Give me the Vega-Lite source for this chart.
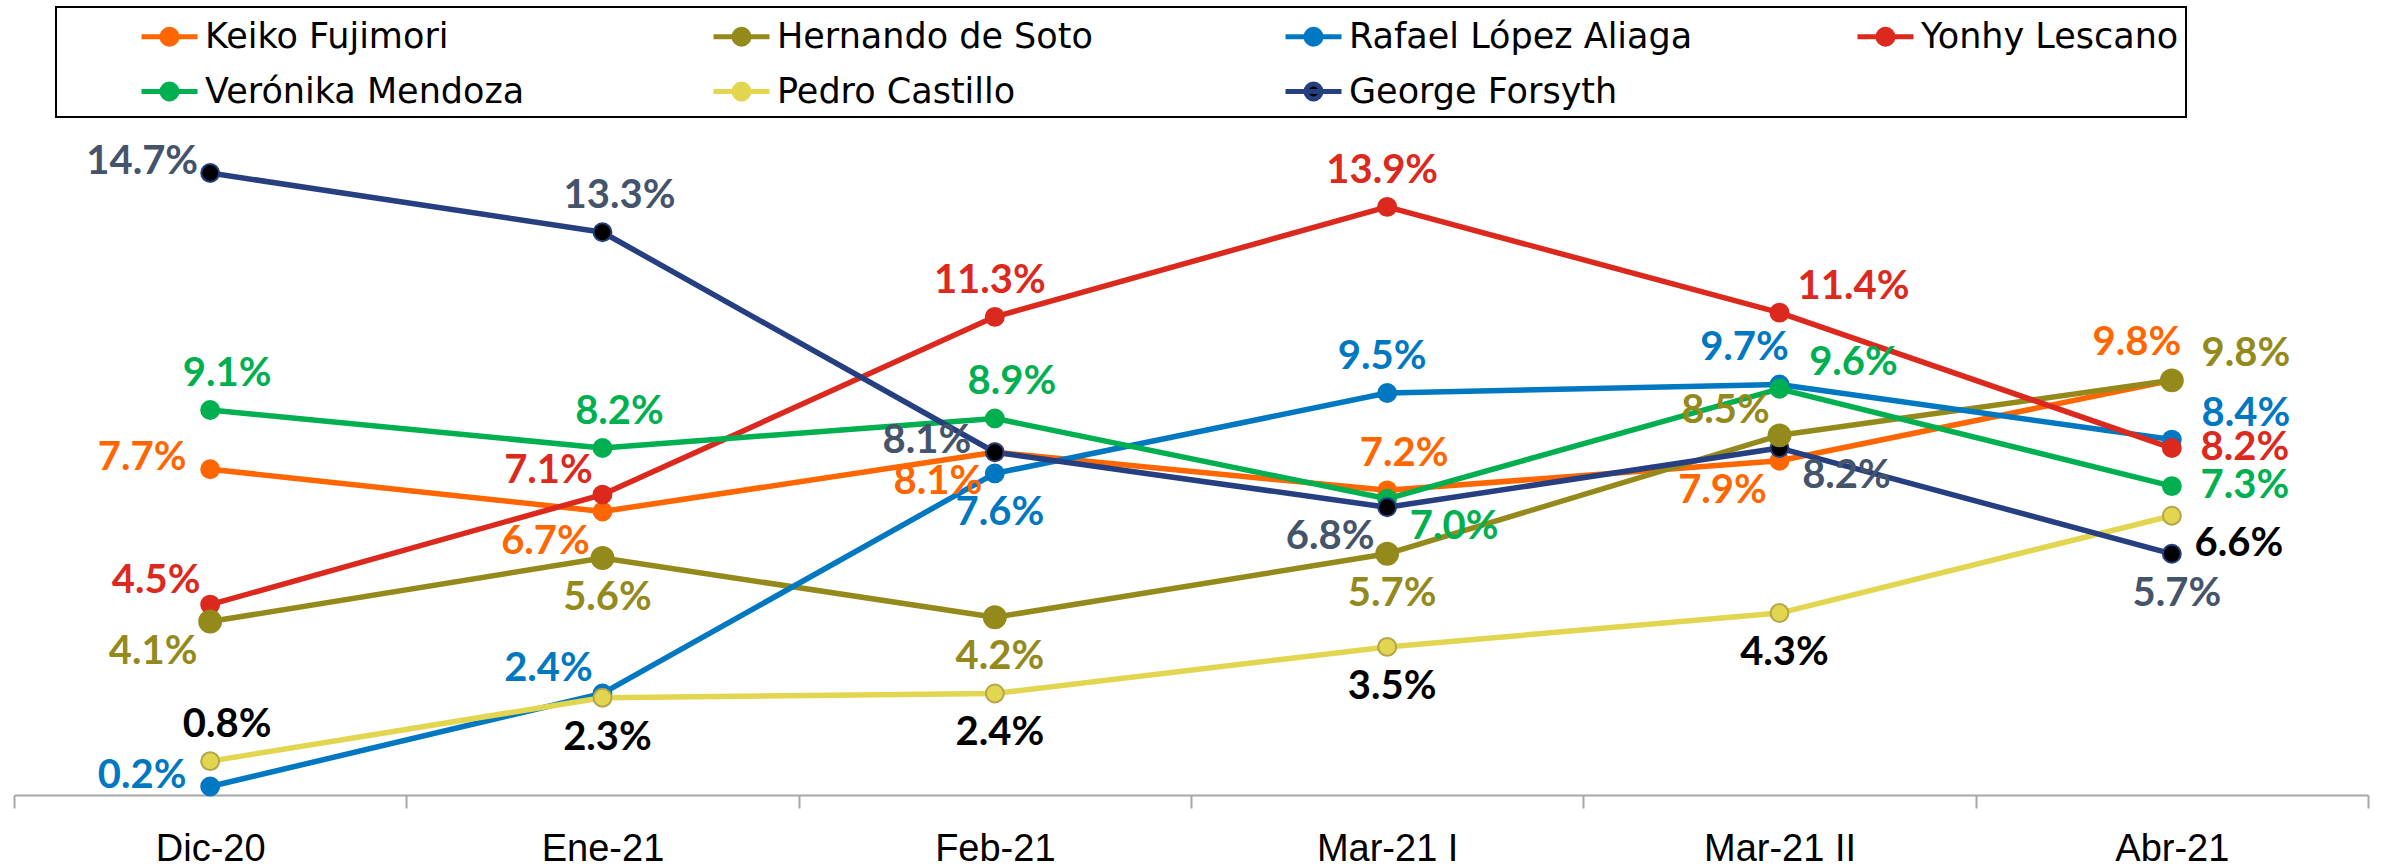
{
  "$schema": "https://vega.github.io/schema/vega-lite/v6.json",
  "width": 2354,
  "height": 677,
  "autosize": {"type": "none"},
  "padding": {"left": 14, "top": 118, "right": 17, "bottom": 72},
  "background": "#ffffff",
  "config": {"view": {"stroke": null}, "legend": {"gridAlign": "all"}},
  "data": {
    "values": [
      {"c": "Dic-20", "s": "Keiko Fujimori", "v": 0.077, "p": "W"},
      {"c": "Ene-21", "s": "Keiko Fujimori", "v": 0.067, "p": "SW"},
      {"c": "Feb-21", "s": "Keiko Fujimori", "v": 0.081, "p": "SW"},
      {"c": "Mar-21 I", "s": "Keiko Fujimori", "v": 0.072, "p": "NNE"},
      {"c": "Mar-21 II", "s": "Keiko Fujimori", "v": 0.079, "p": "SW"},
      {"c": "Abr-21", "s": "Keiko Fujimori", "v": 0.098, "p": "NNW"},
      {"c": "Dic-20", "s": "Hernando de Soto", "v": 0.041, "p": "SW"},
      {"c": "Ene-21", "s": "Hernando de Soto", "v": 0.056, "p": "S"},
      {"c": "Feb-21", "s": "Hernando de Soto", "v": 0.042, "p": "S"},
      {"c": "Mar-21 I", "s": "Hernando de Soto", "v": 0.057, "p": "S"},
      {"c": "Mar-21 II", "s": "Hernando de Soto", "v": 0.085, "p": "NW"},
      {"c": "Abr-21", "s": "Hernando de Soto", "v": 0.098, "p": "NE"},
      {"c": "Dic-20", "s": "Rafael López Aliaga", "v": 0.002, "p": "W"},
      {"c": "Ene-21", "s": "Rafael López Aliaga", "v": 0.024, "p": "NW"},
      {"c": "Feb-21", "s": "Rafael López Aliaga", "v": 0.076, "p": "S"},
      {"c": "Mar-21 I", "s": "Rafael López Aliaga", "v": 0.095, "p": "N"},
      {"c": "Mar-21 II", "s": "Rafael López Aliaga", "v": 0.097, "p": "NNW"},
      {"c": "Abr-21", "s": "Rafael López Aliaga", "v": 0.084, "p": "NE"},
      {"c": "Dic-20", "s": "Yonhy Lescano", "v": 0.045, "p": "NW"},
      {"c": "Ene-21", "s": "Yonhy Lescano", "v": 0.071, "p": "NW"},
      {"c": "Feb-21", "s": "Yonhy Lescano", "v": 0.113, "p": "N"},
      {"c": "Mar-21 I", "s": "Yonhy Lescano", "v": 0.139, "p": "N"},
      {"c": "Mar-21 II", "s": "Yonhy Lescano", "v": 0.114, "p": "NE"},
      {"c": "Abr-21", "s": "Yonhy Lescano", "v": 0.082, "p": "E"},
      {"c": "Dic-20", "s": "Verónika Mendoza", "v": 0.091, "p": "NNE"},
      {"c": "Ene-21", "s": "Verónika Mendoza", "v": 0.082, "p": "NNE"},
      {"c": "Feb-21", "s": "Verónika Mendoza", "v": 0.089, "p": "NNE"},
      {"c": "Mar-21 I", "s": "Verónika Mendoza", "v": 0.070, "p": "SE"},
      {"c": "Mar-21 II", "s": "Verónika Mendoza", "v": 0.096, "p": "NE"},
      {"c": "Abr-21", "s": "Verónika Mendoza", "v": 0.073, "p": "E"},
      {"c": "Dic-20", "s": "Pedro Castillo", "v": 0.008, "p": "NNE"},
      {"c": "Ene-21", "s": "Pedro Castillo", "v": 0.023, "p": "S"},
      {"c": "Feb-21", "s": "Pedro Castillo", "v": 0.024, "p": "S"},
      {"c": "Mar-21 I", "s": "Pedro Castillo", "v": 0.035, "p": "S"},
      {"c": "Mar-21 II", "s": "Pedro Castillo", "v": 0.043, "p": "S"},
      {"c": "Abr-21", "s": "Pedro Castillo", "v": 0.066, "p": "SE"},
      {"c": "Dic-20", "s": "George Forsyth", "v": 0.147, "p": "W"},
      {"c": "Ene-21", "s": "George Forsyth", "v": 0.133, "p": "NNE"},
      {"c": "Feb-21", "s": "George Forsyth", "v": 0.081, "p": "W"},
      {"c": "Mar-21 I", "s": "George Forsyth", "v": 0.068, "p": "SW"},
      {"c": "Mar-21 II", "s": "George Forsyth", "v": 0.082, "p": "SE"},
      {"c": "Abr-21", "s": "George Forsyth", "v": 0.057, "p": "S"}
    ]
  },
  "encoding": {
    "x": {
      "field": "c",
      "type": "ordinal",
      "bandPosition": 0.5,
      "scale": {"type": "band", "domain": ["Dic-20", "Ene-21", "Feb-21", "Mar-21 I", "Mar-21 II", "Abr-21"], "paddingInner": 0, "paddingOuter": 0},
      "axis": {
        "title": null,
        "labelAngle": 0,
        "grid": false,
        "domainColor": "#A6A6A6",
        "domainWidth": 2,
        "tickColor": "#A6A6A6",
        "tickWidth": 2,
        "tickSize": 13,
        "tickBand": "extent",
        "labelFont": "Liberation Sans",
        "labelFontSize": 38,
        "labelColor": "#000000",
        "labelPadding": 22
      }
    },
    "y": {
      "field": "v",
      "type": "quantitative",
      "scale": {"domain": [0, 0.16], "nice": false, "zero": true},
      "axis": null
    }
  },
  "layer": [
    {
      "mark": {"type": "line", "strokeWidth": 5.5, "strokeJoin": "round"},
      "encoding": {
        "color": {
          "field": "s",
          "type": "nominal",
          "scale": {
            "domain": ["Keiko Fujimori", "Hernando de Soto", "Rafael López Aliaga", "Yonhy Lescano", "Verónika Mendoza", "Pedro Castillo", "George Forsyth"],
            "range": ["#FF6600", "#948A1C", "#0078C1", "#DC291E", "#00B050", "#E2D54F", "#263F80"]
          },
          "legend": {
            "orient": "none",
            "legendX": 42,
            "legendY": -111,
            "columns": 4,
            "direction": "horizontal",
            "gridAlign": "all",
            "columnPadding": 154,
            "rowPadding": 14,
            "title": " ",
            "titleOrient": "left",
            "titleFontSize": 1,
            "titlePadding": 84,
            "padding": 7,
            "strokeColor": "#000000",
            "labelFont": "DejaVu Sans",
            "labelFontSize": 35,
            "labelColor": "#000000",
            "labelOffset": 13,
            "labelLimit": 0,
            "symbolType": "M-1.4,0L1.4,0M0.375,0A0.375,0.375,0,1,1,-0.375,0A0.375,0.375,0,1,1,0.375,0Z",
            "symbolSize": 1600,
            "symbolStrokeWidth": 5,
            "encode": {
              "symbols": {"update": {
                "fill": {"signal": "datum.value === 'George Forsyth' ? '#000000' : scale('color', datum.value)"},
                "stroke": {"scale": "color", "field": "value"},
                "opacity": {"value": 1},
                "strokeWidth": {"value": 5}
              }},
              "legend": {"update": {"strokeWidth": {"value": 2}}}
            }
          }
        }
      }
    },
    {
      "transform": [{"filter": "datum.s !== 'Hernando de Soto'"}],
      "mark": {"type": "point", "filled": true, "opacity": 1, "strokeWidth": 2, "shape": "circle", "size": 320},
      "encoding": {
        "fill": {
          "field": "s", "type": "nominal", "legend": null,
          "scale": {
            "domain": ["Keiko Fujimori", "Hernando de Soto", "Rafael López Aliaga", "Yonhy Lescano", "Verónika Mendoza", "Pedro Castillo", "George Forsyth"],
            "range": ["#FF6600", "#948A1C", "#0078C1", "#DC291E", "#00B050", "#E2D54F", "#000000"]
          }
        },
        "stroke": {
          "field": "s", "type": "nominal", "legend": null,
          "scale": {
            "domain": ["Keiko Fujimori", "Hernando de Soto", "Rafael López Aliaga", "Yonhy Lescano", "Verónika Mendoza", "Pedro Castillo", "George Forsyth"],
            "range": ["#FF6600", "#948A1C", "#0078C1", "#DC291E", "#00B050", "#B4A44A", "#263F80"]
          }
        }
      }
    },
    {
      "transform": [{"filter": "datum.s === 'Hernando de Soto'"}],
      "mark": {"type": "point", "filled": true, "opacity": 1, "strokeWidth": 2, "shape": "circle", "size": 480, "fill": "#948A1C", "stroke": "#948A1C"},
      "encoding": {}
    },
    {
      "layer": [
        {"transform": [{"filter": "datum.p === 'N'"}], "mark": {"type": "text", "dx": -5, "dy": -36, "align": "center", "baseline": "middle", "font": "Lato", "fontWeight": "bold", "fontSize": 40}},
        {"transform": [{"filter": "datum.p === 'NNE'"}], "mark": {"type": "text", "dx": 17, "dy": -36, "align": "center", "baseline": "middle", "font": "Lato", "fontWeight": "bold", "fontSize": 40}},
        {"transform": [{"filter": "datum.p === 'NNW'"}], "mark": {"type": "text", "dx": -35, "dy": -37, "align": "center", "baseline": "middle", "font": "Lato", "fontWeight": "bold", "fontSize": 40}},
        {"transform": [{"filter": "datum.p === 'NW'"}], "mark": {"type": "text", "dx": -54, "dy": -24, "align": "center", "baseline": "middle", "font": "Lato", "fontWeight": "bold", "fontSize": 40}},
        {"transform": [{"filter": "datum.p === 'W'"}], "mark": {"type": "text", "dx": -68, "dy": -11, "align": "center", "baseline": "middle", "font": "Lato", "fontWeight": "bold", "fontSize": 40}},
        {"transform": [{"filter": "datum.p === 'SW'"}], "mark": {"type": "text", "dx": -57, "dy": 30, "align": "center", "baseline": "middle", "font": "Lato", "fontWeight": "bold", "fontSize": 40}},
        {"transform": [{"filter": "datum.p === 'S'"}], "mark": {"type": "text", "dx": 5, "dy": 40, "align": "center", "baseline": "middle", "font": "Lato", "fontWeight": "bold", "fontSize": 40}},
        {"transform": [{"filter": "datum.p === 'SE'"}], "mark": {"type": "text", "dx": 67, "dy": 28, "align": "center", "baseline": "middle", "font": "Lato", "fontWeight": "bold", "fontSize": 40}},
        {"transform": [{"filter": "datum.p === 'E'"}], "mark": {"type": "text", "dx": 73, "dy": 0, "align": "center", "baseline": "middle", "font": "Lato", "fontWeight": "bold", "fontSize": 40}},
        {"transform": [{"filter": "datum.p === 'NE'"}], "mark": {"type": "text", "dx": 74, "dy": -26, "align": "center", "baseline": "middle", "font": "Lato", "fontWeight": "bold", "fontSize": 40}}
      ],
      "encoding": {
        "text": {"field": "v", "type": "quantitative", "format": ".1%"},
        "fill": {
          "field": "s", "type": "nominal", "legend": null,
          "scale": {
            "domain": ["Keiko Fujimori", "Hernando de Soto", "Rafael López Aliaga", "Yonhy Lescano", "Verónika Mendoza", "Pedro Castillo", "George Forsyth"],
            "range": ["#FF6600", "#948A1C", "#0078C1", "#DC291E", "#00B050", "#000000", "#44546A"]
          }
        }
      }
    }
  ],
  "resolve": {"scale": {"fill": "independent"}}
}
